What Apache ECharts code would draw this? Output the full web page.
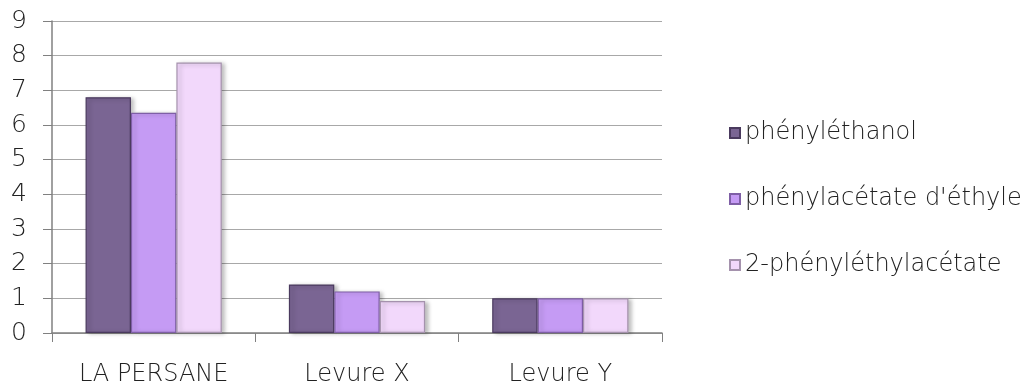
<!DOCTYPE html>
<html><head><meta charset="utf-8">
<script src="https://cdn.jsdelivr.net/npm/echarts@6/dist/echarts.min.js"></script>
<style>html,body{margin:0;padding:0;background:#fff}#c{width:1026px;height:387px}</style>
</head><body><div id="c"></div>
<script>
const categories = ['LA PERSANE', 'Levure X', 'Levure Y'];
const seriesNames = ['phényléthanol', "phénylacétate d'éthyle", '2-phényléthylacétate'];
const phenylethanol = [6.8, 1.4, 1.0];
const phenylacetateEthyle = [6.35, 1.2, 1.0];
const phenylethylacetate = [7.8, 0.92, 1.0];
const yTicks = [0, 1, 2, 3, 4, 5, 6, 7, 8, 9];

const colors = ['#7a6593', '#c59bf4', '#f2d8fb'];
const borders = ['#4a3a5e', '#7f5fa6', '#a592ad'];
const values = [phenylethanol, phenylacetateEthyle, phenylethylacetate];
const font = 'DejaVu Sans';

const chart = echarts.init(document.getElementById('c'), null, {renderer: 'canvas'});
chart.setOption({
  animation: false,
  grid: {left: 52, right: 364, top: 21, bottom: 54, outerBoundsMode: 'none'},
  legend: {
    orient: 'vertical', left: 724, top: 116, itemGap: 42,
    itemWidth: 10, itemHeight: 10, icon: 'rect',
    textStyle: {fontFamily: font, fontSize: 24, fontWeight: 300, color: '#222'},
    data: seriesNames
  },
  xAxis: {
    type: 'category', data: categories,
    axisLine: {lineStyle: {color: '#808080', width: 1.5}},
    axisTick: {show: true, length: 9, inside: false, lineStyle: {color: '#808080'}},
    axisLabel: {fontFamily: font, fontSize: 24, fontWeight: 300, color: '#222', margin: 30}
  },
  yAxis: {
    type: 'value', min: 0, max: 9, interval: 1,
    axisLine: {show: true, lineStyle: {color: '#808080', width: 1.5}},
    axisTick: {show: true, length: 9, lineStyle: {color: '#808080'}},
    axisLabel: {fontFamily: font, fontSize: 25, fontWeight: 300, color: '#222', margin: 25,
      formatter: v => String(yTicks[v] ?? v)},
    splitLine: {lineStyle: {color: '#a8a8a8', width: 1}}
  },
  series: seriesNames.map((n, i) => ({
    name: n, type: 'bar', data: values[i],
    barGap: '0%', barCategoryGap: '33%',
    itemStyle: {color: colors[i], borderColor: borders[i], borderWidth: 1.2,
      shadowColor: 'rgba(0,0,0,0.25)', shadowBlur: 4, shadowOffsetX: 3, shadowOffsetY: 1}
  }))
});
</script></body></html>
